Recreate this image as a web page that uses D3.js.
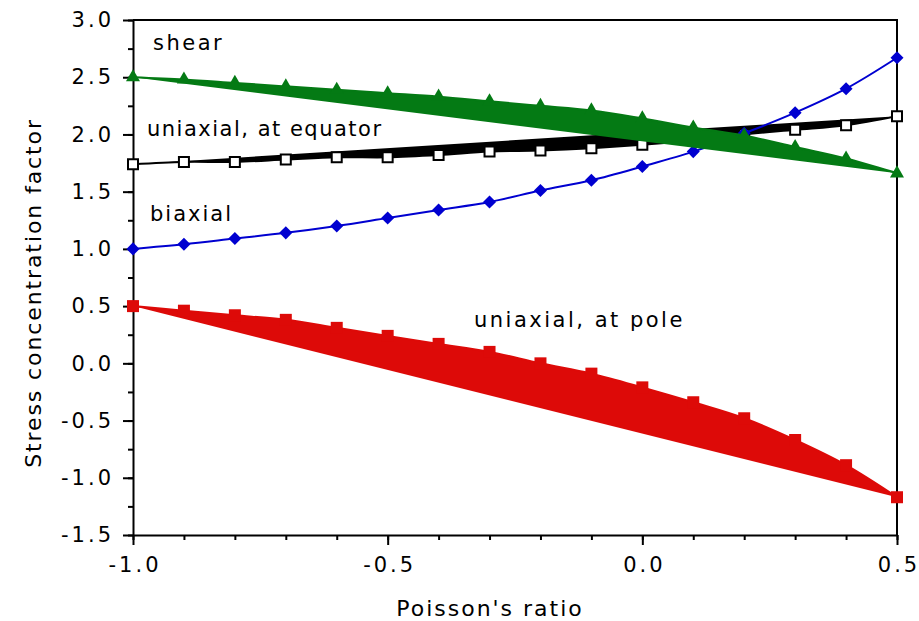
<!DOCTYPE html>
<html>
<head>
<meta charset="utf-8">
<script src="https://cdn.jsdelivr.net/npm/d3@7"></script>
<style>
  body { margin: 0; background: #fff; }
  text { font-family: "DejaVu Sans", Verdana, sans-serif; fill: #000; }
</style>
</head>
<body>
<div id="chart"></div>
<script>
// Poisson's ratio values (x)
const ratios = [-1.0, -0.9, -0.8, -0.7, -0.6, -0.5, -0.4, -0.3, -0.2, -0.1, 0.0, 0.1, 0.2, 0.3, 0.4, 0.5];

// stress concentration factors per loading case
const shear     = [2.50, 2.48, 2.45, 2.42, 2.39, 2.36, 2.33, 2.29, 2.25, 2.21, 2.14, 2.06, 1.99, 1.89, 1.79, 1.66];
const equator   = [1.74, 1.76, 1.76, 1.78, 1.80, 1.80, 1.82, 1.85, 1.86, 1.88, 1.91, 1.95, 2.00, 2.04, 2.08, 2.16];
const biaxial   = [1.00, 1.04, 1.09, 1.14, 1.20, 1.27, 1.34, 1.41, 1.51, 1.60, 1.72, 1.85, 2.01, 2.19, 2.40, 2.67];
const pole      = [0.50, 0.46, 0.42, 0.38, 0.31, 0.24, 0.17, 0.10, 0.00, -0.09, -0.21, -0.34, -0.48, -0.67, -0.89, -1.17];

const xTicks = [-1.0, -0.5, 0.0, 0.5];
const yTicks = [-1.5, -1.0, -0.5, 0.0, 0.5, 1.0, 1.5, 2.0, 2.5, 3.0];

const W = 919, H = 621;
const margin = { top: 20, right: 22, bottom: 86, left: 133 };
const width = W - margin.left - margin.right;
const height = H - margin.top - margin.bottom;
const tickLS = 3; // letter spacing of tick labels

const svg = d3.select("#chart").append("svg")
    .attr("width", W)
    .attr("height", H);

const g = svg.append("g")
    .attr("transform", `translate(${margin.left},${margin.top})`);

const x = d3.scaleLinear().domain([-1.0, 0.5]).range([0, width]);
const y = d3.scaleLinear().domain([-1.5, 3.0]).range([height, 0]);

// frame (top and right)
g.append("path")
    .attr("d", `M0,0H${width}V${height}`)
    .attr("fill", "none")
    .attr("stroke", "#000")
    .attr("stroke-width", 2);

// minor ticks
const xMinor = d3.range(-1.0, 0.5001, 0.1);
const yMinor = d3.range(-1.5, 3.0001, 0.25);

g.append("g")
    .attr("transform", `translate(0,${height})`)
    .call(d3.axisBottom(x).tickValues(xMinor).tickSize(5).tickFormat(""))
    .call(a => a.select(".domain").remove())
    .selectAll("line").attr("stroke-width", 2);

g.append("g")
    .call(d3.axisLeft(y).tickValues(yMinor).tickSize(5).tickFormat(""))
    .call(a => a.select(".domain").remove())
    .selectAll("line").attr("stroke-width", 2);

// major axes
const fmt = d => d3.format(".1f")(d).replace("−", "-");

const xAxis = g.append("g")
    .attr("transform", `translate(0,${height})`)
    .call(d3.axisBottom(x).tickValues(xTicks).tickSize(10).tickSizeOuter(0));
xAxis.select(".domain").attr("stroke-width", 2);
xAxis.selectAll("line").attr("stroke-width", 2);
xAxis.selectAll("text")
    .style("font-size", "21px")
    .style("letter-spacing", tickLS + "px")
    .attr("y", 22)
    .attr("dx", tickLS / 2)
    .attr("dy", "0.71em")
    .text(fmt);

const yAxis = g.append("g")
    .call(d3.axisLeft(y).tickValues(yTicks).tickSize(10).tickSizeOuter(0));
yAxis.select(".domain").attr("stroke-width", 2);
yAxis.selectAll("line").attr("stroke-width", 2);
yAxis.selectAll("text")
    .style("font-size", "21px")
    .style("letter-spacing", tickLS + "px")
    .attr("x", -22 + tickLS)
    .text(fmt);

// series
const line = d3.line()
    .x((d, i) => x(ratios[i]))
    .y(d => y(d))
    .curve(d3.curveCatmullRom);

const series = [
    { name: "pole", values: pole, color: "#dd0a08", filled: true, symbol: "square" },
    { name: "equator", values: equator, color: "#000000", filled: true, symbol: "hollow" },
    { name: "biaxial", values: biaxial, color: "#0000d0", filled: false, symbol: "diamond" },
    { name: "shear", values: shear, color: "#047a14", filled: true, symbol: "triangle" }
];

series.forEach(s => {
    g.append("path")
        .datum(s.values)
        .attr("d", line)
        .attr("fill", s.filled ? s.color : "none")
        .attr("stroke", s.color)
        .attr("stroke-width", 2);

    const sym = g.selectAll(".m-" + s.name)
        .data(s.values)
        .enter().append("path")
        .attr("class", "m-" + s.name);

    if (s.symbol === "square") {
        sym.attr("d", d3.symbol(d3.symbolSquare, 144))
           .attr("transform", (d, i) => `translate(${x(ratios[i])},${y(d)})`)
           .attr("fill", s.color);
    } else if (s.symbol === "hollow") {
        sym.attr("d", d3.symbol(d3.symbolSquare, 100))
           .attr("transform", (d, i) => `translate(${x(ratios[i])},${y(d)})`)
           .attr("fill", "#fff")
           .attr("stroke", "#000")
           .attr("stroke-width", 2);
    } else if (s.symbol === "diamond") {
        sym.attr("d", d3.symbol(d3.symbolSquare, 85))
           .attr("transform", (d, i) => `translate(${x(ratios[i])},${y(d)}) rotate(45)`)
           .attr("fill", s.color);
    } else {
        sym.attr("d", d3.symbol(d3.symbolTriangle, 85))
           .attr("transform", (d, i) => `translate(${x(ratios[i])},${y(d)})`)
           .attr("fill", s.color);
    }
});

// curve labels
const labels = [
    { text: "shear", x: 153, y: 50, ls: 2.5 },
    { text: "uniaxial, at equator", x: 147, y: 136, ls: 1.5 },
    { text: "biaxial", x: 150, y: 221, ls: 2 },
    { text: "uniaxial, at pole", x: 474, y: 327, ls: 2.5 }
];
svg.selectAll(".lbl")
    .data(labels)
    .enter().append("text")
    .attr("class", "lbl")
    .attr("x", d => d.x)
    .attr("y", d => d.y)
    .style("font-size", "21px")
    .style("letter-spacing", d => d.ls + "px")
    .text(d => d.text);

// axis titles
svg.append("text")
    .attr("x", 490)
    .attr("y", 616)
    .attr("text-anchor", "middle")
    .style("font-size", "22px")
    .style("letter-spacing", "2px")
    .text("Poisson's ratio");

svg.append("text")
    .attr("transform", "translate(41,293) rotate(-90)")
    .attr("text-anchor", "middle")
    .style("font-size", "22px")
    .style("letter-spacing", "1.9px")
    .text("Stress concentration factor");
</script>
</body>
</html>
